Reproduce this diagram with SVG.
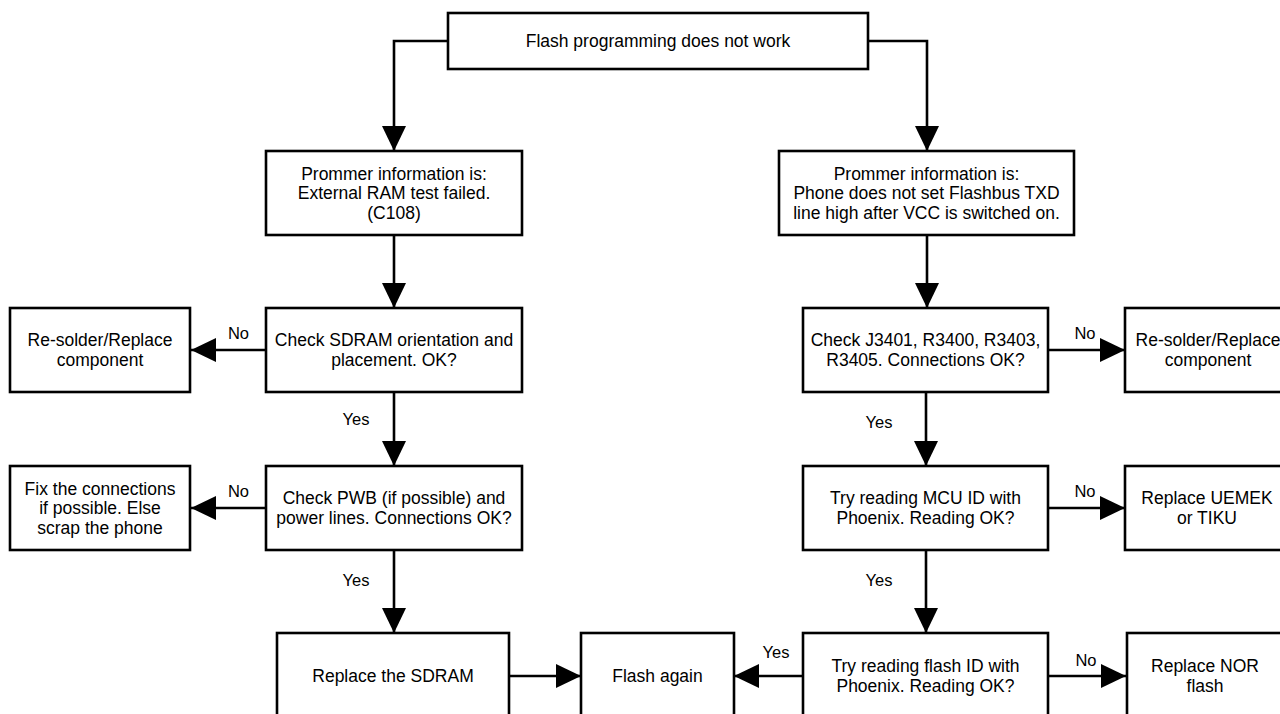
<svg xmlns="http://www.w3.org/2000/svg" width="1280" height="714" viewBox="0 0 1280 714">
  <style>
    .box { fill: #ffffff; stroke: #000000; stroke-width: 2.6; }
    .t { font-family: "Liberation Sans", Arial, sans-serif; font-size: 17.5px; fill: #000000; text-anchor: middle; }
    .lbl { font-family: "Liberation Sans", Arial, sans-serif; font-size: 16.5px; fill: #000000; text-anchor: middle; }
    .wire { fill: none; stroke: #000000; stroke-width: 2.6; marker-end: url(#arrow); }
  </style>
  <defs>
    <marker id="arrow" markerUnits="userSpaceOnUse" markerWidth="26" markerHeight="26" refX="25" refY="12" orient="auto">
      <path d="M0,0 L25,12 L0,24 Z" fill="#000000"/>
    </marker>
  </defs>
  <rect x="0" y="0" width="1280" height="714" fill="#ffffff"/>

  <!-- connectors -->
  <g id="connectors">
    <path class="wire" d="M448,41 H394 V151"/>
    <path class="wire" d="M868,41 H927 V151"/>
    <path class="wire" d="M394,235 V308"/>
    <path class="wire" d="M927,235 V308"/>
    <path class="wire" d="M266,350 H191"/>
    <path class="wire" d="M394,392 V466"/>
    <path class="wire" d="M266,508 H191"/>
    <path class="wire" d="M394,550 V633"/>
    <path class="wire" d="M1048,350 H1125"/>
    <path class="wire" d="M926,392 V466"/>
    <path class="wire" d="M1048,508 H1125"/>
    <path class="wire" d="M926,550 V633"/>
    <path class="wire" d="M509,676 H581"/>
    <path class="wire" d="M803,676 H734"/>
    <path class="wire" d="M1048,676 H1126"/>

    <text class="lbl" x="238.5" y="339">No</text>
    <text class="lbl" x="238.5" y="497">No</text>
    <text class="lbl" x="1085" y="339">No</text>
    <text class="lbl" x="1085" y="497">No</text>
    <text class="lbl" x="1086" y="666">No</text>
    <text class="lbl" x="356" y="425">Yes</text>
    <text class="lbl" x="356" y="586">Yes</text>
    <text class="lbl" x="879" y="428">Yes</text>
    <text class="lbl" x="879" y="586">Yes</text>
    <text class="lbl" x="776" y="658">Yes</text>
  </g>

  <g id="start">
    <rect class="box" x="448" y="13" width="420" height="56"/>
    <text class="t" x="658" y="47">Flash programming does not work</text>
  </g>

  <g id="prommer-ram">
    <rect class="box" x="266" y="151" width="256" height="84"/>
    <text class="t" x="394" y="179.5">Prommer information is:</text>
    <text class="t" x="394" y="199">External RAM test failed.</text>
    <text class="t" x="394" y="218.5">(C108)</text>
  </g>

  <g id="prommer-txd">
    <rect class="box" x="779" y="151" width="295" height="84"/>
    <text class="t" x="926.5" y="179.5">Prommer information is:</text>
    <text class="t" x="926.5" y="199">Phone does not set Flashbus TXD</text>
    <text class="t" x="926.5" y="218.5">line high after VCC is switched on.</text>
  </g>

  <g id="check-sdram">
    <rect class="box" x="266" y="308" width="256" height="84"/>
    <text class="t" x="394" y="346">Check SDRAM orientation and</text>
    <text class="t" x="394" y="366">placement. OK?</text>
  </g>

  <g id="resolder-left">
    <rect class="box" x="10" y="308" width="180" height="84"/>
    <text class="t" x="100" y="346">Re-solder/Replace</text>
    <text class="t" x="100" y="366">component</text>
  </g>

  <g id="check-pwb">
    <rect class="box" x="266" y="466" width="256" height="84"/>
    <text class="t" x="394" y="504">Check PWB (if possible) and</text>
    <text class="t" x="394" y="524">power lines. Connections OK?</text>
  </g>

  <g id="fix-connections">
    <rect class="box" x="10" y="466" width="180" height="84"/>
    <text class="t" x="100" y="494.5">Fix the connections</text>
    <text class="t" x="100" y="514">if possible. Else</text>
    <text class="t" x="100" y="533.5">scrap the phone</text>
  </g>

  <g id="replace-sdram">
    <rect class="box" x="277" y="633" width="232" height="84"/>
    <text class="t" x="393" y="682">Replace the SDRAM</text>
  </g>

  <g id="flash-again">
    <rect class="box" x="581" y="633" width="153" height="84"/>
    <text class="t" x="657.5" y="682">Flash again</text>
  </g>

  <g id="check-j3401">
    <rect class="box" x="803" y="308" width="245" height="84"/>
    <text class="t" x="925.5" y="346">Check J3401, R3400, R3403,</text>
    <text class="t" x="925.5" y="366">R3405. Connections OK?</text>
  </g>

  <g id="resolder-right">
    <rect class="box" x="1125" y="308" width="167" height="84"/>
    <text class="t" x="1208" y="346">Re-solder/Replace</text>
    <text class="t" x="1208" y="366">component</text>
  </g>

  <g id="read-mcu">
    <rect class="box" x="803" y="466" width="245" height="84"/>
    <text class="t" x="925.5" y="504">Try reading MCU ID with</text>
    <text class="t" x="925.5" y="524">Phoenix. Reading OK?</text>
  </g>

  <g id="replace-uemek">
    <rect class="box" x="1125" y="466" width="167" height="84"/>
    <text class="t" x="1207" y="504">Replace UEMEK</text>
    <text class="t" x="1207" y="524">or TIKU</text>
  </g>

  <g id="read-flash">
    <rect class="box" x="803" y="633" width="245" height="84"/>
    <text class="t" x="925.5" y="672">Try reading flash ID with</text>
    <text class="t" x="925.5" y="692">Phoenix. Reading OK?</text>
  </g>

  <g id="replace-nor">
    <rect class="box" x="1127" y="633" width="165" height="84"/>
    <text class="t" x="1205" y="672">Replace NOR</text>
    <text class="t" x="1205" y="692">flash</text>
  </g>
</svg>
